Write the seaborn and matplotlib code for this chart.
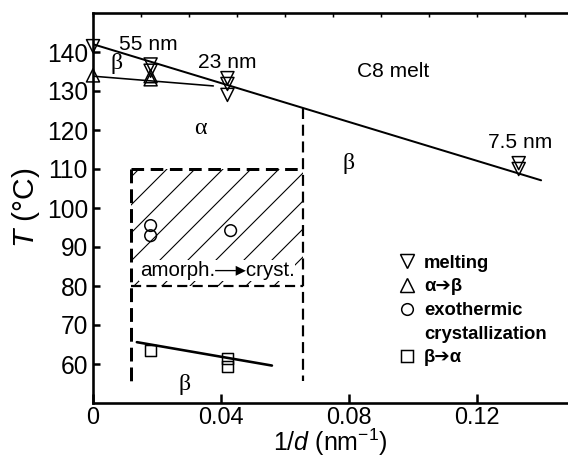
import numpy as np
import pandas as pd
import matplotlib
matplotlib.use("Agg")
import matplotlib.pyplot as plt
from matplotlib.lines import Line2D
from matplotlib.ticker import MultipleLocator, FixedLocator
import seaborn as sns

# ---------------- data ----------------
# inverse film thickness 1/d (nm^-1) and transition temperatures (deg C)
melt_x = [0.0, 0.018, 0.018, 0.042, 0.042, 0.042, 0.133, 0.133]
melt_T = [141.5, 136.8, 135.2, 133.3, 131.8, 129.0, 111.5, 110.0]

ab_x = [0.0, 0.018, 0.018]
ab_T = [134.0, 133.8, 133.0]

exo_x = [0.018, 0.018, 0.043]
exo_T = [95.5, 92.9, 94.2]

ba_x = [0.018, 0.042, 0.042]
ba_T = [63.5, 61.5, 59.4]

# guide lines
melt_fit_x = [0.0, 0.140]
melt_fit_T = [142.0, 107.1]
ab_fit_x = [0.0, 0.0376]
ab_fit_T = [133.8, 131.3]
ba_fit_x = [0.0137, 0.0559]
ba_fit_T = [65.6, 59.6]

# amorphous -> crystalline window and phase boundaries
cryst_x = [0.012, 0.0656]
cryst_T = [80.0, 110.0]
boundary_floor_T = 55.0

# thickness annotations
thick_labels = ["55 nm", "23 nm", "7.5 nm"]
thick_x = [0.0172, 0.0418, 0.1334]
thick_T = [141.8, 137.3, 116.7]

x_ticks = [0.0, 0.04, 0.08, 0.12]
x_ticklabels = ["0", "0.04", "0.08", "0.12"]
y_ticks = [60, 70, 80, 90, 100, 110, 120, 130, 140]

# ---------------- style ----------------
DPI = 168
PX = 72.0 / DPI  # one pixel in points

sns.set_theme(style="ticks")
plt.rcParams["font.family"] = ["Liberation Sans", "DejaVu Sans"]
plt.rcParams["mathtext.fontset"] = "custom"
plt.rcParams["mathtext.rm"] = "Liberation Sans"
plt.rcParams["mathtext.it"] = "Liberation Sans:italic"
plt.rcParams["hatch.linewidth"] = 1.1 * PX
plt.rcParams["axes.linewidth"] = 2.6 * PX
for key in ["text.color", "axes.labelcolor", "xtick.color", "ytick.color",
            "axes.edgecolor", "xtick.labelcolor", "ytick.labelcolor"]:
    plt.rcParams[key] = "black"

fig = plt.figure(figsize=(568 / DPI, 460 / DPI), dpi=DPI)
ax = fig.add_axes([93 / 568, 1 - 403 / 460, 475 / 568, 390 / 460])
ax.set_facecolor("white")

# hatched window
ax.fill_between(cryst_x, cryst_T[0], cryst_T[1], hatch="//", facecolor="none",
                edgecolor="black", linewidth=0, zorder=1)
ax.plot(cryst_x, [cryst_T[1]] * 2, color="black", lw=3 * PX, dashes=(4.2, 2.2), zorder=2)
ax.plot(cryst_x, [cryst_T[0]] * 2, color="black", lw=2.2 * PX, dashes=(4.6, 2.4), zorder=2)
ax.plot([cryst_x[0]] * 2, [cryst_T[1], boundary_floor_T], color="black",
        lw=3 * PX, dashes=(4.6, 2.0), zorder=2)
right_top = float(np.interp(cryst_x[1], melt_fit_x, melt_fit_T))
ax.plot([cryst_x[1]] * 2, [right_top, boundary_floor_T + 0.7], color="black",
        lw=2.2 * PX, dashes=(5.0, 2.6), zorder=2)

# guide lines
sns.lineplot(x=melt_fit_x, y=melt_fit_T, color="black", lw=2.0 * PX, ax=ax, zorder=3)
sns.lineplot(x=ab_fit_x, y=ab_fit_T, color="black", lw=1.6 * PX, ax=ax, zorder=3)
sns.lineplot(x=ba_fit_x, y=ba_fit_T, color="black", lw=2.6 * PX, ax=ax, zorder=3)

# data points
mk_lw = 1.5 * PX
sets = [
    (melt_x, melt_T, "v", 5.6),
    (ab_x, ab_T, "^", 5.6),
    (exo_x, exo_T, "o", 5.0),
    (ba_x, ba_T, "s", 4.8),
]
for xs, ts, mk, ms in sets:
    sns.scatterplot(x=xs, y=ts, marker=mk, s=ms ** 2, facecolor="none",
                    edgecolor="black", linewidth=mk_lw, ax=ax, zorder=4,
                    clip_on=False)

# text annotations
small = 21 * PX
for lab, xx, tt in zip(thick_labels, thick_x, thick_T):
    ax.text(xx, tt, lab, ha="center", va="center", fontsize=small, zorder=5)
ax.text(0.0939, 135.1, "C8 melt", ha="center", va="center", fontsize=small)

greek = dict(family=["Liberation Serif", "DejaVu Serif"], fontsize=24 * PX,
             ha="center", va="center")
ax.text(0.0075, 137.0, "β", **greek)
ax.text(0.0336, 120.3, "α", **greek)
ax.text(0.0798, 111.5, "β", **greek)
ax.text(0.0286, 54.8, "β", **greek)

ax.text(np.mean(cryst_x), 84.0, "amorph.\u2014\u25B8cryst.", ha="center", va="center",
        fontsize=20.5 * PX, zorder=5,
        bbox=dict(facecolor="white", edgecolor="none", pad=0.3))

# legend
def handle(mk, ms):
    return Line2D([], [], ls="", marker=mk, ms=ms, mfc="none", mec="black", mew=mk_lw)

handles = [handle("v", 5.6), handle("^", 5.6), handle("o", 5.0),
           Line2D([], [], ls="", marker=None), handle("s", 4.8)]
labels = ["melting", "α\u2794β", "exothermic", "crystallization", "β\u2794α"]
ax.legend(handles, labels, loc="upper left", bbox_to_anchor=(0.644, 0.380),
          frameon=False, prop=dict(size=18.5 * PX, weight="bold"),
          handlelength=0.9, handletextpad=0.45,
          labelspacing=0.36, borderpad=0, borderaxespad=0)

# axes
ax.set_xlim(0, 0.1484)
ax.set_ylim(50, 150)
ax.spines["right"].set_visible(False)
for s in ["left", "top", "bottom"]:
    ax.spines[s].set_visible(True)
    ax.spines[s].set_color("black")

ax.xaxis.set_major_locator(FixedLocator(x_ticks))
ax.set_xticklabels(x_ticklabels)
ax.xaxis.set_minor_locator(MultipleLocator(0.015))
ax.xaxis.remove_overlapping_locs = False
ax.yaxis.set_major_locator(FixedLocator(y_ticks))
ax.tick_params(axis="x", which="major", direction="in", length=9 * PX, width=2.5 * PX,
               bottom=True, top=False, labelsize=23.5 * PX, pad=3 * PX, colors="black")
ax.tick_params(axis="x", which="minor", direction="in", length=4 * PX, width=1.5 * PX,
               bottom=False, top=True, colors="black")
ax.tick_params(axis="y", which="major", direction="in", length=7 * PX, width=2.5 * PX,
               left=True, right=False, labelsize=24.5 * PX, pad=5 * PX, colors="black")

ax.set_xlabel("1/$d$ (nm$^{-1}$)", fontsize=25 * PX, labelpad=-1.0, color="black")
ax.set_ylabel("$T$ (°C)", fontsize=30 * PX, labelpad=2, color="black")
ax.grid(False)

fig.savefig("out.png", dpi=DPI, facecolor="white")
